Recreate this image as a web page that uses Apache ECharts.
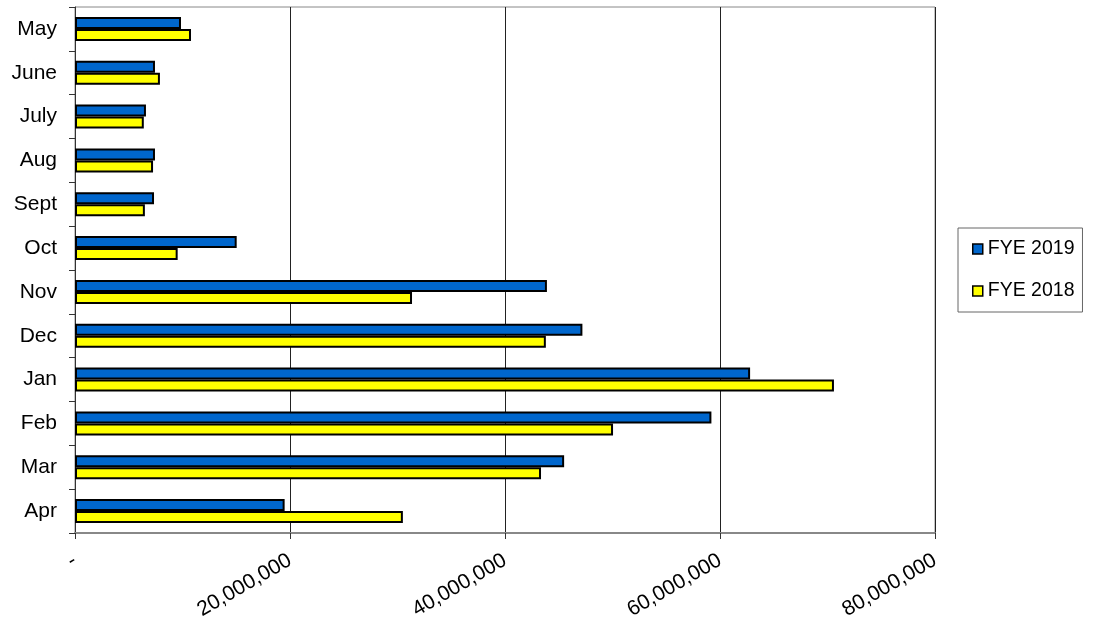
<!DOCTYPE html>
<html>
<head>
<meta charset="utf-8">
<script src="https://cdn.jsdelivr.net/npm/echarts@6/dist/echarts.min.js"></script>
<style>
  html, body { margin: 0; padding: 0; background: #fff; }
  #chart { width: 1093px; height: 629px; }
</style>
</head>
<body>
<div id="chart"></div>
<script>
// months, top to bottom
var months = ['May', 'June', 'July', 'Aug', 'Sept', 'Oct', 'Nov', 'Dec', 'Jan', 'Feb', 'Mar', 'Apr']
var fye2019 = [9860000, 7440000, 6600000, 7440000, 7350000, 15040000, 43900000, 47200000, 62800000, 59200000, 45500000, 19500000]
var fye2018 = [10790000, 7900000, 6400000, 7260000, 6500000, 9550000, 31350000, 43800000, 70600000, 50050000, 43350000, 30500000]
var tickLabels = ['-', '20,000,000', '40,000,000', '60,000,000', '80,000,000']
var tickStep = 20000000

var chart = echarts.init(document.getElementById('chart'))
var font = 'Liberation Sans, Arial, sans-serif'

chart.setOption({
  animation: false,
  textStyle: { fontFamily: font },
  grid: {
    left: 75,
    right: 158,
    top: 7,
    bottom: 96,
    show: true,
    borderColor: '#888',
    borderWidth: 1
  },
  legend: {
    orient: 'vertical',
    left: 958,
    top: 228,
    padding: [11, 8, 11, 14],
    itemGap: 22,
    itemWidth: 10,
    itemHeight: 10,
    itemTextGap: 7,
    icon: 'rect',
    borderColor: '#666',
    borderWidth: 1,
    textStyle: { fontSize: 19.5, color: '#000', fontFamily: font },
    itemStyle: { borderColor: '#000', borderWidth: 1.5 },
    data: ['FYE 2019', 'FYE 2018']
  },
  xAxis: {
    type: 'value',
    min: 0,
    max: 80000000,
    interval: tickStep,
    axisLine: { show: true, lineStyle: { color: '#888', width: 2 } },
    axisTick: { show: true, length: 6, lineStyle: { color: '#333' } },
    splitLine: { show: true, lineStyle: { color: '#222', width: 1 } },
    axisLabel: {
      rotate: 30,
      margin: 26,
      fontSize: 21,
      color: '#000',
      fontFamily: font,
      formatter: function (v) { return tickLabels[Math.round(v / tickStep)] }
    }
  },
  yAxis: {
    type: 'category',
    inverse: true,
    data: months,
    axisLine: { show: true, lineStyle: { color: '#333', width: 1 } },
    axisTick: { show: true, length: 6, lineStyle: { color: '#333' } },
    axisLabel: { fontSize: 21, color: '#000', margin: 18, fontFamily: font }
  },
  series: [
    {
      name: 'FYE 2019',
      type: 'bar',
      data: fye2019,
      barWidth: 12,
      barGap: '0%',
      itemStyle: { color: '#0066CC', borderColor: '#000', borderWidth: 2 }
    },
    {
      name: 'FYE 2018',
      type: 'bar',
      data: fye2018,
      barWidth: 12,
      barGap: '0%',
      itemStyle: { color: '#FFFF00', borderColor: '#000', borderWidth: 2 }
    }
  ]
})
</script>
</body>
</html>
